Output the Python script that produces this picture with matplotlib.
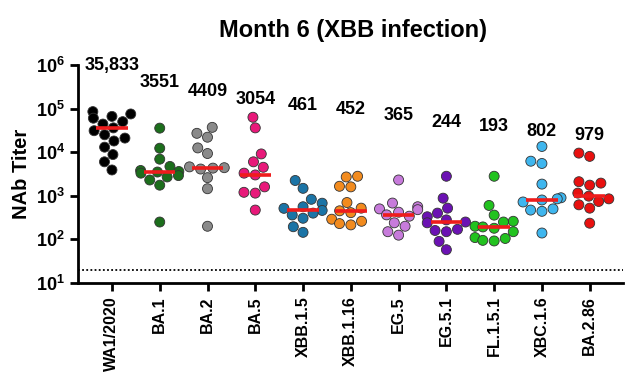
import math
import matplotlib
matplotlib.use("Agg")
import matplotlib.pyplot as plt
import seaborn as sns
import pandas as pd
from matplotlib.ticker import FixedLocator, FuncFormatter, NullLocator

plt.rcParams['font.family'] = ['Liberation Sans', 'DejaVu Sans']
plt.rcParams['mathtext.fontset'] = 'custom'
plt.rcParams['mathtext.rm'] = 'Liberation Sans:bold'
plt.rcParams['mathtext.bf'] = 'Liberation Sans:bold'

# variants and GMT labels
variants = ['WA1/2020', 'BA.1', 'BA.2', 'BA.5', 'XBB.1.5', 'XBB.1.16',
            'EG.5', 'EG.5.1', 'FL.1.5.1', 'XBC.1.6', 'BA.2.86']
gmt = [35833, 3551, 4409, 3054, 461, 452, 365, 244, 193, 802, 979]
gmt_text = ['35,833', '3551', '4409', '3054', '461', '452', '365', '244', '193', '802', '979']

# titers
wa1 = [85000, 75000, 66000, 60000, 50000, 44000, 36000, 31000, 25000, 21000, 18000, 13000, 8800, 6000, 3900]
ba1 = [35500, 12300, 6900, 4700, 3800, 3600, 3500, 3300, 2900, 2700, 2300, 1750, 250]
ba2 = [37000, 27000, 22000, 12500, 9300, 4600, 4400, 4300, 4100, 2600, 1450, 200]
ba5 = [63000, 36000, 9100, 6000, 4500, 3300, 3000, 1600, 1200, 1150, 470]
xbb15 = [2240, 1480, 830, 675, 560, 515, 461, 400, 363, 305, 195, 145]
xbb116 = [2800, 2700, 1650, 1600, 700, 520, 452, 410, 290, 260, 230, 215]
eg5 = [2300, 680, 560, 500, 480, 420, 365, 340, 240, 200, 150, 125]
eg51 = [2800, 880, 520, 400, 330, 280, 250, 240, 170, 160, 150, 90, 58]
fl151 = [2800, 600, 360, 260, 250, 200, 193, 180, 150, 110, 105, 95, 92]
xbc16 = [13500, 6200, 5500, 1850, 900, 850, 800, 720, 500, 470, 440, 140]
ba286 = [9500, 8000, 2100, 1950, 1750, 1150, 979, 850, 740, 620, 520, 235]
titers = [wa1, ba1, ba2, ba5, xbb15, xbb116, eg5, eg51, fl151, xbc16, ba286]
detection_limit = 20

colors = ['#000000', '#1c6e1c', '#8a8a8a', '#e8197a', '#1b74a6', '#f28b1e',
          '#c77bdb', '#6b12b3', '#22c21f', '#3fb6ee', '#e8100f']

# label heights (log scale position above each column)
label_y = [9.5e5, 3.9e5, 2.5e5, 1.65e5, 1.2e5, 9.3e4, 6.8e4, 4.9e4, 3.8e4, 2.9e4, 2.45e4]

rows = []
for v, vals in zip(variants, titers):
    for t in vals:
        rows.append((v, t))
df = pd.DataFrame(rows, columns=['variant', 'titer'])

fig = plt.figure(figsize=(6.37, 3.84), dpi=100)
ax = fig.add_axes([0.1225, 0.263, 0.855, 0.568])
ax.set_yscale('log')

sns.swarmplot(data=df, x='variant', y='titer', hue='variant', order=variants,
              hue_order=variants, palette=colors, size=7.2, linewidth=0.6,
              edgecolor='#333333', legend=False, ax=ax, zorder=2)

for i, g in enumerate(gmt):
    ax.hlines(g, i - 0.33, i + 0.33, color='#ee1c1c', lw=2.6, zorder=4)
    ax.text(i, label_y[i], gmt_text[i], ha='center', va='center', fontsize=13,
            fontweight='bold', clip_on=False)

ax.axhline(detection_limit, color='black', ls=(0, (1, 1.3)), lw=1.3, zorder=1)

ax.set_xlim(-0.71, 10.69)
ax.set_ylim(10, 1e6)
ax.yaxis.set_major_locator(FixedLocator([1e1, 1e2, 1e3, 1e4, 1e5, 1e6]))
ax.yaxis.set_minor_locator(NullLocator())
ax.yaxis.set_major_formatter(FuncFormatter(lambda v, p: r'$\mathbf{10^{%d}}$' % round(math.log10(v))))

ax.set_xlabel('')
ax.set_ylabel('NAb Titer', fontsize=14.5, fontweight='bold', labelpad=3)
ax.set_xticks(range(len(variants)))
ax.set_xticklabels(variants, rotation=90, fontsize=11.5, fontweight='bold')
ax.tick_params(axis='y', labelsize=13, width=2, length=6)
ax.tick_params(axis='x', width=2, length=6)

for s in ['top', 'right']:
    ax.spines[s].set_visible(False)
for s in ['left', 'bottom']:
    ax.spines[s].set_linewidth(2)

fig.text(0.554, 0.92, 'Month 6 (XBB infection)', ha='center', va='center',
         fontsize=17, fontweight='bold')

fig.savefig('out.png', dpi=100)
